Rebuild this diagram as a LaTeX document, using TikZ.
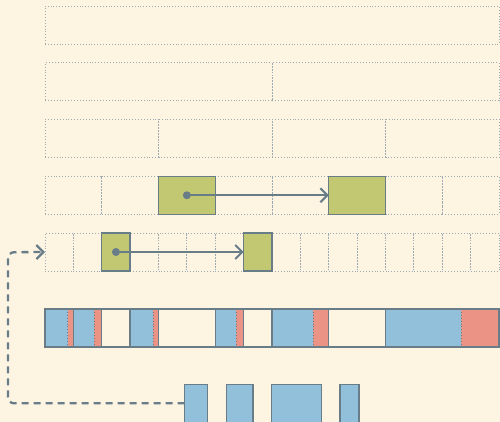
\documentclass[tikz,border=0pt]{standalone}
\usetikzlibrary{arrows.meta, positioning, calc}
\definecolor{paper}{HTML}{FDF5E2}
\definecolor{slot}{HTML}{C2C872}
\definecolor{used}{HTML}{92C0DB}
\definecolor{spare}{HTML}{EB9486}
\definecolor{edge}{HTML}{687D88}

\begin{document}
\begin{tikzpicture}[
    x=1pt, y=-1pt,
    cell/.style={draw=edge!65, dotted, line width=0.9pt, inner sep=0pt, outer sep=0pt, anchor=north west, minimum height=38pt},
    hit/.style={draw=edge, solid, line width=1.3pt, fill=slot},
    seg/.style={draw=edge, line width=1.3pt, inner sep=0pt, outer sep=0pt, anchor=north west, minimum height=38pt},
    arr/.style={-{Straight Barb[length=7pt, width=14pt]}, draw=edge, line width=2pt},
]

\fill[paper] (0,0) rectangle (500,422);
\clip (0,0) rectangle (500,422);

% levels, each one split into twice as many cells
\foreach \lvl in {0,...,4} {
    \pgfmathtruncatemacro\n{2^\lvl}
    \pgfmathsetmacro\w{454/\n}
    \pgfmathsetmacro\top{6+56.75*\lvl}
    \foreach \k in {1,...,\n} {
        \node[cell, minimum width=\w] (r\lvl-\k) at ({45+(\k-1)*\w}, \top) {};
    }
}

% taken cells and their moves
\node[cell, hit, minimum width=56.75] (srcA) at (r3-3.north west) {};
\node[cell, hit, minimum width=56.75] (dstA) at (r3-6.north west) {};
\node[cell, hit, minimum width=28.375] (srcB) at (r4-3.north west) {};
\node[cell, hit, minimum width=28.375] (dstB) at (r4-8.north west) {};

\fill[edge] (srcA.center) circle (4pt);
\draw[arr] (srcA.center) -- (dstA.west);
\fill[edge] (srcB.center) circle (4pt);
\draw[arr] (srcB.center) -- (dstB.west);

% memory bar: used part in blue, slack in red
\foreach \a/\b/\rw in {0/1/5.7, 1/2/7.4, 3/4/5.5, 6/7/7.6, 8/10/15.4, 12/16/38} {
    \node[seg, fill=used, minimum width={(\b-\a)*28.375},
        path picture={
            \fill[spare] ([xshift=-\rw pt]path picture bounding box.north east) rectangle (path picture bounding box.south east);
            \draw[edge, dotted, line width=0.9pt] ([xshift=-\rw pt]path picture bounding box.north east) -- ([xshift=-\rw pt]path picture bounding box.south east);
        }] (bar-\a) at ({45+\a*28.375}, 309) {};
}
\foreach \a/\b in {2/3, 4/6, 7/8, 10/12}
    \node[seg, minimum width={(\b-\a)*28.375}] (gap-\a) at ({45+\a*28.375}, 309) {};

% requests
\foreach \x/\w [count=\i] in {184.7/23, 226.3/26.7, 271.7/49.6, 340/19}
    \node[seg, fill=used, minimum width=\w] (blk-\i) at (\x, 384.3) {};

\draw[arr, line width=2.3pt, dash pattern=on 7pt off 5pt, rounded corners=6pt] (blk-1.west) -| (8,252.25) -- (r4-1.west);

\end{tikzpicture}
\end{document}
